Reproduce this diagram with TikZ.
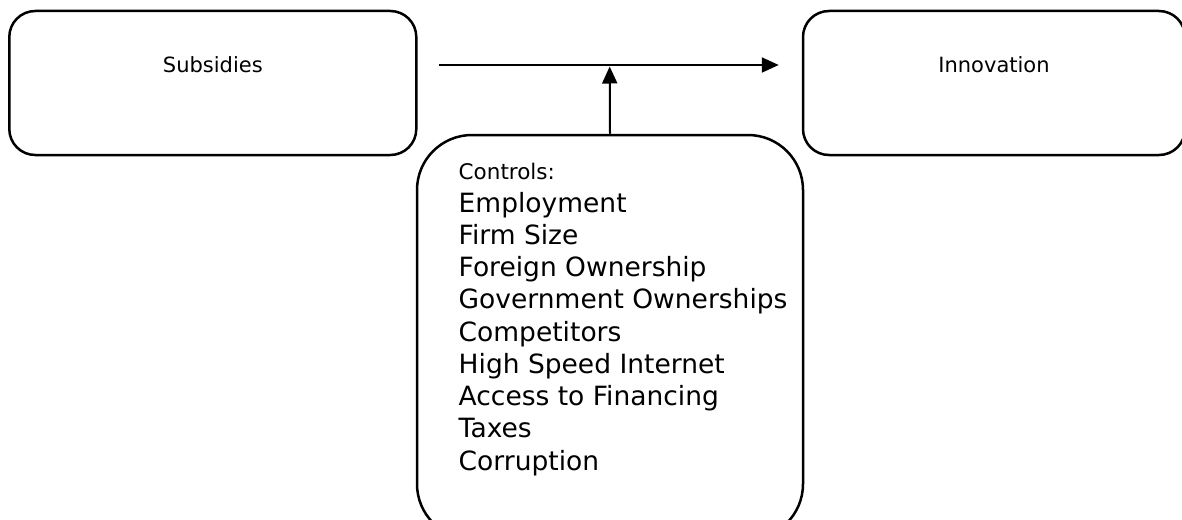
\documentclass[tikz,border=0pt]{standalone}
\usepackage{fontspec}
\setmainfont{DejaVu Sans}
\usetikzlibrary{arrows.meta,calc}
\tikzset{
  box/.style={draw,line width=2.5pt,rounded corners=26pt,inner sep=0pt,
    minimum width=407pt,minimum height=144pt,
    font=\fontsize{21}{25}\selectfont,text height=15pt,text depth=37pt},
  ctrlbox/.style={draw,line width=2.5pt,rounded corners=55pt,inner sep=0pt,
    minimum width=386pt,minimum height=404pt},
  ctrltext/.style={align=left,inner sep=0pt,font=\fontsize{26.5}{32.25}\selectfont},
  flow/.style={line width=2pt,-{Triangle[length=17pt,width=15pt]}},
}

\begin{document}
\begin{tikzpicture}[x=1pt,y=-1pt]
\useasboundingbox (0,0) rectangle (1182,519);
\clip (0,0) rectangle (1182,519);
\node[box] (subs) at (212.8,83) {Subsidies};
\node[box,minimum width=382pt] (innov) at (994,83) {Innovation};
\node[ctrlbox] (ctrl) at (610,337) {};
\node[ctrltext,anchor=base west] (ctrllist) at (458.5,470)
  {{\fontsize{21.5}{24}\selectfont Controls:}\\
   Employment\\
   Firm Size\\
   Foreign Ownership\\
   Government Ownerships\\
   Competitors\\
   High Speed Internet\\
   Access to Financing\\
   Taxes\\
   Corruption};
% main effect, moderated by the controls
\draw[flow,shorten <=21.5pt,shorten >=23pt] ([yshift=18pt]subs.east) -- coordinate[pos=0.5] (join) ([yshift=18pt]innov.west);
\draw[flow,shorten >=1.5pt] (ctrl.north) -- (join);
\end{tikzpicture}
\end{document}
